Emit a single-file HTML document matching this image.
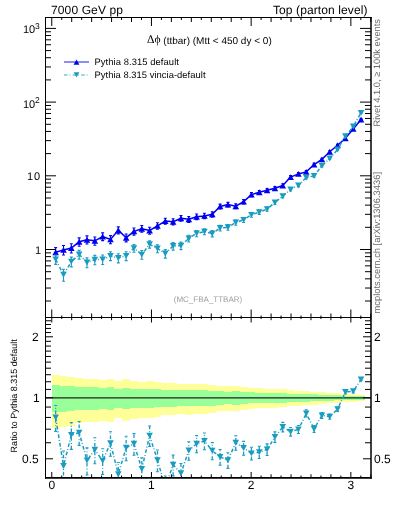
<!DOCTYPE html><html><head><meta charset="utf-8"><style>html,body{margin:0;padding:0;background:#fff;width:393px;height:512px;overflow:hidden}body{position:relative;font-family:"Liberation Sans",sans-serif}</style></head><body><svg width="393" height="512" viewBox="0 0 393 512" text-rendering="geometricPrecision" style="position:absolute;left:0;top:0;will-change:transform">
<defs><clipPath id="cm"><rect x="45" y="17" width="326" height="300"/></clipPath><clipPath id="cr"><rect x="45" y="317" width="326" height="161"/></clipPath></defs>
<g clip-path="url(#cr)" shape-rendering="crispEdges">
<rect x="51.75" y="375.30" width="7.83" height="52.80" fill="#ffff99"/>
<rect x="59.58" y="376.01" width="7.83" height="50.83" fill="#ffff99"/>
<rect x="67.41" y="376.54" width="7.83" height="49.34" fill="#ffff99"/>
<rect x="75.24" y="378.33" width="7.83" height="44.51" fill="#ffff99"/>
<rect x="83.07" y="378.90" width="7.83" height="43.01" fill="#ffff99"/>
<rect x="90.90" y="378.60" width="7.83" height="43.79" fill="#ffff99"/>
<rect x="98.73" y="379.73" width="7.83" height="40.83" fill="#ffff99"/>
<rect x="106.56" y="378.98" width="7.83" height="42.80" fill="#ffff99"/>
<rect x="114.39" y="381.28" width="7.83" height="36.89" fill="#ffff99"/>
<rect x="122.22" y="379.42" width="7.83" height="41.64" fill="#ffff99"/>
<rect x="130.05" y="380.99" width="7.83" height="37.61" fill="#ffff99"/>
<rect x="137.88" y="381.62" width="7.83" height="36.01" fill="#ffff99"/>
<rect x="145.72" y="381.20" width="7.83" height="37.07" fill="#ffff99"/>
<rect x="153.55" y="382.28" width="7.83" height="34.37" fill="#ffff99"/>
<rect x="161.38" y="383.29" width="7.83" height="31.88" fill="#ffff99"/>
<rect x="169.21" y="383.17" width="7.83" height="32.19" fill="#ffff99"/>
<rect x="177.04" y="383.89" width="7.83" height="30.44" fill="#ffff99"/>
<rect x="184.87" y="383.67" width="7.83" height="30.98" fill="#ffff99"/>
<rect x="192.70" y="384.19" width="7.83" height="29.72" fill="#ffff99"/>
<rect x="200.53" y="384.34" width="7.83" height="29.35" fill="#ffff99"/>
<rect x="208.36" y="384.65" width="7.83" height="28.61" fill="#ffff99"/>
<rect x="216.19" y="386.08" width="7.83" height="25.24" fill="#ffff99"/>
<rect x="224.02" y="386.39" width="7.83" height="24.53" fill="#ffff99"/>
<rect x="231.85" y="386.12" width="7.83" height="25.16" fill="#ffff99"/>
<rect x="239.68" y="386.88" width="7.83" height="23.39" fill="#ffff99"/>
<rect x="247.51" y="387.95" width="7.83" height="20.95" fill="#ffff99"/>
<rect x="255.34" y="388.28" width="7.83" height="20.20" fill="#ffff99"/>
<rect x="263.17" y="388.56" width="7.83" height="19.57" fill="#ffff99"/>
<rect x="271.00" y="388.84" width="7.83" height="18.94" fill="#ffff99"/>
<rect x="278.83" y="389.19" width="7.83" height="18.15" fill="#ffff99"/>
<rect x="286.66" y="390.21" width="7.83" height="15.90" fill="#ffff99"/>
<rect x="294.49" y="390.56" width="7.83" height="15.13" fill="#ffff99"/>
<rect x="302.32" y="390.78" width="7.83" height="14.66" fill="#ffff99"/>
<rect x="310.15" y="391.52" width="7.83" height="13.05" fill="#ffff99"/>
<rect x="317.98" y="391.98" width="7.83" height="12.05" fill="#ffff99"/>
<rect x="325.81" y="392.62" width="7.83" height="10.68" fill="#ffff99"/>
<rect x="333.65" y="393.10" width="7.83" height="9.66" fill="#ffff99"/>
<rect x="341.48" y="393.58" width="7.83" height="8.66" fill="#ffff99"/>
<rect x="349.31" y="394.14" width="7.83" height="7.47" fill="#ffff99"/>
<rect x="357.14" y="394.63" width="7.83" height="6.45" fill="#ffff99"/>
<rect x="51.75" y="385.25" width="7.83" height="27.20" fill="#99ff99"/>
<rect x="59.58" y="385.66" width="7.83" height="26.22" fill="#99ff99"/>
<rect x="67.41" y="385.98" width="7.83" height="25.49" fill="#99ff99"/>
<rect x="75.24" y="387.02" width="7.83" height="23.07" fill="#99ff99"/>
<rect x="83.07" y="387.35" width="7.83" height="22.32" fill="#99ff99"/>
<rect x="90.90" y="387.18" width="7.83" height="22.71" fill="#99ff99"/>
<rect x="98.73" y="387.83" width="7.83" height="21.22" fill="#99ff99"/>
<rect x="106.56" y="387.39" width="7.83" height="22.21" fill="#99ff99"/>
<rect x="114.39" y="388.72" width="7.83" height="19.21" fill="#99ff99"/>
<rect x="122.22" y="387.65" width="7.83" height="21.62" fill="#99ff99"/>
<rect x="130.05" y="388.55" width="7.83" height="19.58" fill="#99ff99"/>
<rect x="137.88" y="388.92" width="7.83" height="18.76" fill="#99ff99"/>
<rect x="145.72" y="388.68" width="7.83" height="19.30" fill="#99ff99"/>
<rect x="153.55" y="389.29" width="7.83" height="17.93" fill="#99ff99"/>
<rect x="161.38" y="389.87" width="7.83" height="16.65" fill="#99ff99"/>
<rect x="169.21" y="389.80" width="7.83" height="16.81" fill="#99ff99"/>
<rect x="177.04" y="390.21" width="7.83" height="15.91" fill="#99ff99"/>
<rect x="184.87" y="390.08" width="7.83" height="16.18" fill="#99ff99"/>
<rect x="192.70" y="390.37" width="7.83" height="15.54" fill="#99ff99"/>
<rect x="200.53" y="390.46" width="7.83" height="15.34" fill="#99ff99"/>
<rect x="208.36" y="390.64" width="7.83" height="14.96" fill="#99ff99"/>
<rect x="216.19" y="391.44" width="7.83" height="13.22" fill="#99ff99"/>
<rect x="224.02" y="391.61" width="7.83" height="12.85" fill="#99ff99"/>
<rect x="231.85" y="391.46" width="7.83" height="13.18" fill="#99ff99"/>
<rect x="239.68" y="391.88" width="7.83" height="12.26" fill="#99ff99"/>
<rect x="247.51" y="392.48" width="7.83" height="10.99" fill="#99ff99"/>
<rect x="255.34" y="392.66" width="7.83" height="10.60" fill="#99ff99"/>
<rect x="263.17" y="392.81" width="7.83" height="10.27" fill="#99ff99"/>
<rect x="271.00" y="392.97" width="7.83" height="9.94" fill="#99ff99"/>
<rect x="278.83" y="393.16" width="7.83" height="9.53" fill="#99ff99"/>
<rect x="286.66" y="393.72" width="7.83" height="8.35" fill="#99ff99"/>
<rect x="294.49" y="393.92" width="7.83" height="7.95" fill="#99ff99"/>
<rect x="302.32" y="394.03" width="7.83" height="7.70" fill="#99ff99"/>
<rect x="310.15" y="394.44" width="7.83" height="6.86" fill="#99ff99"/>
<rect x="317.98" y="394.69" width="7.83" height="6.33" fill="#99ff99"/>
<rect x="325.81" y="395.04" width="7.83" height="5.62" fill="#99ff99"/>
<rect x="333.65" y="395.30" width="7.83" height="5.08" fill="#99ff99"/>
<rect x="341.48" y="395.55" width="7.83" height="4.55" fill="#99ff99"/>
<rect x="349.31" y="395.86" width="7.83" height="3.93" fill="#99ff99"/>
<rect x="357.14" y="396.12" width="7.83" height="3.40" fill="#99ff99"/>
</g>
<line x1="45" y1="397.80" x2="371" y2="397.80" stroke="#222" stroke-width="1.2"/>
<g clip-path="url(#cm)">
<polyline points="55.67,252.20 63.50,249.90 71.33,248.10 79.16,241.80 86.99,239.70 94.82,240.80 102.65,236.50 110.48,239.40 118.31,230.20 126.14,237.70 133.97,231.40 141.80,228.70 149.63,230.50 157.46,225.80 165.29,221.10 173.12,221.70 180.95,218.20 188.78,219.30 196.61,216.70 204.44,215.90 212.27,214.30 220.10,206.40 227.93,204.60 235.76,206.20 243.60,201.60 251.43,194.60 259.26,192.30 267.09,190.30 274.92,188.20 282.75,185.50 290.58,177.10 298.41,173.90 306.24,171.90 314.07,164.50 321.90,159.40 329.73,151.70 337.56,145.30 345.39,138.30 353.22,128.90 361.05,119.50" fill="none" stroke="#0000f0" stroke-width="1.5"/>
<path d="M55.67,247.63V257.53M54.17,247.63H57.17M54.17,257.53H57.17" stroke="#0000f0" stroke-width="1.1" fill="none"/>
<path d="M55.67,249.25L58.97,255.15L52.37,255.15Z" fill="#0000f0"/>
<path d="M63.50,245.48V255.02M62.00,245.48H65.00M62.00,255.02H65.00" stroke="#0000f0" stroke-width="1.1" fill="none"/>
<path d="M63.50,246.95L66.80,252.85L60.20,252.85Z" fill="#0000f0"/>
<path d="M71.33,243.80V253.07M69.83,243.80H72.83M69.83,253.07H72.83" stroke="#0000f0" stroke-width="1.1" fill="none"/>
<path d="M71.33,245.15L74.63,251.05L68.03,251.05Z" fill="#0000f0"/>
<path d="M79.16,237.88V246.27M77.66,237.88H80.66M77.66,246.27H80.66" stroke="#0000f0" stroke-width="1.1" fill="none"/>
<path d="M79.16,238.85L82.46,244.75L75.86,244.75Z" fill="#0000f0"/>
<path d="M86.99,235.90V244.02M85.49,235.90H88.49M85.49,244.02H88.49" stroke="#0000f0" stroke-width="1.1" fill="none"/>
<path d="M86.99,236.75L90.29,242.65L83.69,242.65Z" fill="#0000f0"/>
<path d="M94.82,236.94V245.20M93.32,236.94H96.32M93.32,245.20H96.32" stroke="#0000f0" stroke-width="1.1" fill="none"/>
<path d="M94.82,237.85L98.12,243.75L91.52,243.75Z" fill="#0000f0"/>
<path d="M102.65,232.87V240.59M101.15,232.87H104.15M101.15,240.59H104.15" stroke="#0000f0" stroke-width="1.1" fill="none"/>
<path d="M102.65,233.55L105.95,239.45L99.35,239.45Z" fill="#0000f0"/>
<path d="M110.48,235.61V243.69M108.98,235.61H111.98M108.98,243.69H111.98" stroke="#0000f0" stroke-width="1.1" fill="none"/>
<path d="M110.48,236.45L113.78,242.35L107.18,242.35Z" fill="#0000f0"/>
<path d="M118.31,226.90V233.88M116.81,226.90H119.81M116.81,233.88H119.81" stroke="#0000f0" stroke-width="1.1" fill="none"/>
<path d="M118.31,227.25L121.61,233.15L115.01,233.15Z" fill="#0000f0"/>
<path d="M126.14,234.01V241.87M124.64,234.01H127.64M124.64,241.87H127.64" stroke="#0000f0" stroke-width="1.1" fill="none"/>
<path d="M126.14,234.75L129.44,240.65L122.84,240.65Z" fill="#0000f0"/>
<path d="M133.97,228.04V235.16M132.47,228.04H135.47M132.47,235.16H135.47" stroke="#0000f0" stroke-width="1.1" fill="none"/>
<path d="M133.97,228.45L137.27,234.35L130.67,234.35Z" fill="#0000f0"/>
<path d="M141.80,225.47V232.29M140.30,225.47H143.30M140.30,232.29H143.30" stroke="#0000f0" stroke-width="1.1" fill="none"/>
<path d="M141.80,225.75L145.10,231.65L138.50,231.65Z" fill="#0000f0"/>
<path d="M149.63,227.18V234.20M148.13,227.18H151.13M148.13,234.20H151.13" stroke="#0000f0" stroke-width="1.1" fill="none"/>
<path d="M149.63,227.55L152.93,233.45L146.33,233.45Z" fill="#0000f0"/>
<path d="M157.46,222.71V229.23M155.96,222.71H158.96M155.96,229.23H158.96" stroke="#0000f0" stroke-width="1.1" fill="none"/>
<path d="M157.46,222.85L160.76,228.75L154.16,228.75Z" fill="#0000f0"/>
<path d="M165.29,218.21V224.27M163.79,218.21H166.79M163.79,224.27H166.79" stroke="#0000f0" stroke-width="1.1" fill="none"/>
<path d="M165.29,218.15L168.59,224.05L161.99,224.05Z" fill="#0000f0"/>
<path d="M173.12,218.79V224.90M171.62,218.79H174.62M171.62,224.90H174.62" stroke="#0000f0" stroke-width="1.1" fill="none"/>
<path d="M173.12,218.75L176.42,224.65L169.82,224.65Z" fill="#0000f0"/>
<path d="M180.95,215.44V221.22M179.45,215.44H182.45M179.45,221.22H182.45" stroke="#0000f0" stroke-width="1.1" fill="none"/>
<path d="M180.95,215.25L184.25,221.15L177.65,221.15Z" fill="#0000f0"/>
<path d="M188.78,216.49V222.38M187.28,216.49H190.28M187.28,222.38H190.28" stroke="#0000f0" stroke-width="1.1" fill="none"/>
<path d="M188.78,216.35L192.08,222.25L185.48,222.25Z" fill="#0000f0"/>
<path d="M196.61,214.00V219.65M195.11,214.00H198.11M195.11,219.65H198.11" stroke="#0000f0" stroke-width="1.1" fill="none"/>
<path d="M196.61,213.75L199.91,219.65L193.31,219.65Z" fill="#0000f0"/>
<path d="M204.44,213.23V218.81M202.94,213.23H205.94M202.94,218.81H205.94" stroke="#0000f0" stroke-width="1.1" fill="none"/>
<path d="M204.44,212.95L207.74,218.85L201.14,218.85Z" fill="#0000f0"/>
<path d="M212.27,211.69V217.14M210.77,211.69H213.77M210.77,217.14H213.77" stroke="#0000f0" stroke-width="1.1" fill="none"/>
<path d="M212.27,211.35L215.57,217.25L208.97,217.25Z" fill="#0000f0"/>
<path d="M220.10,204.09V208.89M218.60,204.09H221.60M218.60,208.89H221.60" stroke="#0000f0" stroke-width="1.1" fill="none"/>
<path d="M220.10,203.45L223.40,209.35L216.80,209.35Z" fill="#0000f0"/>
<path d="M227.93,202.35V207.02M226.43,202.35H229.43M226.43,207.02H229.43" stroke="#0000f0" stroke-width="1.1" fill="none"/>
<path d="M227.93,201.65L231.23,207.55L224.63,207.55Z" fill="#0000f0"/>
<path d="M235.76,203.89V208.69M234.26,203.89H237.26M234.26,208.69H237.26" stroke="#0000f0" stroke-width="1.1" fill="none"/>
<path d="M235.76,203.25L239.06,209.15L232.46,209.15Z" fill="#0000f0"/>
<path d="M243.60,199.45V203.91M242.10,199.45H245.10M242.10,203.91H245.10" stroke="#0000f0" stroke-width="1.1" fill="none"/>
<path d="M243.60,198.65L246.90,204.55L240.30,204.55Z" fill="#0000f0"/>
<path d="M251.43,192.66V196.66M249.93,192.66H252.93M249.93,196.66H252.93" stroke="#0000f0" stroke-width="1.1" fill="none"/>
<path d="M251.43,191.65L254.73,197.55L248.13,197.55Z" fill="#0000f0"/>
<path d="M259.26,190.43V194.29M257.76,190.43H260.76M257.76,194.29H260.76" stroke="#0000f0" stroke-width="1.1" fill="none"/>
<path d="M259.26,189.35L262.56,195.25L255.96,195.25Z" fill="#0000f0"/>
<path d="M267.09,188.49V192.22M265.59,188.49H268.59M265.59,192.22H268.59" stroke="#0000f0" stroke-width="1.1" fill="none"/>
<path d="M267.09,187.35L270.39,193.25L263.79,193.25Z" fill="#0000f0"/>
<path d="M274.92,186.44V190.06M273.42,186.44H276.42M273.42,190.06H276.42" stroke="#0000f0" stroke-width="1.1" fill="none"/>
<path d="M274.92,185.25L278.22,191.15L271.62,191.15Z" fill="#0000f0"/>
<path d="M282.75,183.81V187.28M281.25,183.81H284.25M281.25,187.28H284.25" stroke="#0000f0" stroke-width="1.1" fill="none"/>
<path d="M282.75,182.55L286.05,188.45L279.45,188.45Z" fill="#0000f0"/>
<path d="M290.58,175.62V178.66M289.08,175.62H292.08M289.08,178.66H292.08" stroke="#0000f0" stroke-width="1.1" fill="none"/>
<path d="M290.58,174.15L293.88,180.05L287.28,180.05Z" fill="#0000f0"/>
<path d="M298.41,172.49V175.38M296.91,172.49H299.91M296.91,175.38H299.91" stroke="#0000f0" stroke-width="1.1" fill="none"/>
<path d="M298.41,170.95L301.71,176.85L295.11,176.85Z" fill="#0000f0"/>
<path d="M306.24,170.53V173.33M304.74,170.53H307.74M304.74,173.33H307.74" stroke="#0000f0" stroke-width="1.1" fill="none"/>
<path d="M306.24,168.95L309.54,174.85L302.94,174.85Z" fill="#0000f0"/>
<path d="M314.07,163.28V165.77M312.57,163.28H315.57M312.57,165.77H315.57" stroke="#0000f0" stroke-width="1.1" fill="none"/>
<path d="M314.07,161.55L317.37,167.45L310.77,167.45Z" fill="#0000f0"/>
<path d="M321.90,158.27V160.57M320.40,158.27H323.40M320.40,160.57H323.40" stroke="#0000f0" stroke-width="1.1" fill="none"/>
<path d="M321.90,156.45L325.20,162.35L318.60,162.35Z" fill="#0000f0"/>
<path d="M329.73,150.69V152.74M328.23,150.69H331.23M328.23,152.74H331.23" stroke="#0000f0" stroke-width="1.1" fill="none"/>
<path d="M329.73,148.75L333.03,154.65L326.43,154.65Z" fill="#0000f0"/>
<path d="M337.56,144.39V146.24M336.06,144.39H339.06M336.06,146.24H339.06" stroke="#0000f0" stroke-width="1.1" fill="none"/>
<path d="M337.56,142.35L340.86,148.25L334.26,148.25Z" fill="#0000f0"/>
<path d="M345.39,137.48V139.14M343.89,137.48H346.89M343.89,139.14H346.89" stroke="#0000f0" stroke-width="1.1" fill="none"/>
<path d="M345.39,135.35L348.69,141.25L342.09,141.25Z" fill="#0000f0"/>
<path d="M353.22,128.19V129.62M351.72,128.19H354.72M351.72,129.62H354.72" stroke="#0000f0" stroke-width="1.1" fill="none"/>
<path d="M353.22,125.95L356.52,131.85L349.92,131.85Z" fill="#0000f0"/>
<path d="M361.05,118.89V120.12M359.55,118.89H362.55M359.55,120.12H362.55" stroke="#0000f0" stroke-width="1.1" fill="none"/>
<path d="M361.05,116.55L364.35,122.45L357.75,122.45Z" fill="#0000f0"/>
<polyline points="55.67,259.37 63.50,274.71 71.33,261.63 79.16,254.46 86.99,262.47 94.82,259.72 102.65,259.38 110.48,255.92 118.31,257.99 126.14,255.85 133.97,248.13 141.80,254.60 149.63,244.25 157.46,248.50 165.29,253.55 173.12,246.07 180.95,245.66 188.78,238.47 196.61,233.42 204.44,231.61 212.27,233.58 220.10,227.94 227.93,227.30 235.76,222.53 243.60,219.86 251.43,214.83 259.26,212.09 267.09,209.11 274.92,202.46 282.75,196.12 290.58,189.43 298.41,185.40 306.24,177.57 314.07,175.85 321.90,165.80 329.73,158.54 337.56,149.45 345.39,136.19 353.22,126.52 361.05,112.84" fill="none" stroke="#1a9cc0" stroke-width="1.5" stroke-dasharray="3.6 1.9 0.9 2.2"/>
<path d="M55.67,255.01V264.41M54.17,255.01H57.17M54.17,264.41H57.17" stroke="#1a9cc0" stroke-width="1.1" fill="none"/>
<path d="M55.67,262.32L58.97,256.42L52.37,256.42Z" fill="#1a9cc0"/>
<path d="M63.50,269.27V281.27M62.00,269.27H65.00M62.00,281.27H65.00" stroke="#1a9cc0" stroke-width="1.1" fill="none"/>
<path d="M63.50,277.66L66.80,271.76L60.20,271.76Z" fill="#1a9cc0"/>
<path d="M71.33,257.13V266.87M69.83,257.13H72.83M69.83,266.87H72.83" stroke="#1a9cc0" stroke-width="1.1" fill="none"/>
<path d="M71.33,264.58L74.63,258.68L68.03,258.68Z" fill="#1a9cc0"/>
<path d="M79.16,250.40V259.10M77.66,250.40H80.66M77.66,259.10H80.66" stroke="#1a9cc0" stroke-width="1.1" fill="none"/>
<path d="M79.16,257.41L82.46,251.51L75.86,251.51Z" fill="#1a9cc0"/>
<path d="M86.99,257.91V267.79M85.49,257.91H88.49M85.49,267.79H88.49" stroke="#1a9cc0" stroke-width="1.1" fill="none"/>
<path d="M86.99,265.42L90.29,259.52L83.69,259.52Z" fill="#1a9cc0"/>
<path d="M94.82,255.34V264.79M93.32,255.34H96.32M93.32,264.79H96.32" stroke="#1a9cc0" stroke-width="1.1" fill="none"/>
<path d="M94.82,262.67L98.12,256.77L91.52,256.77Z" fill="#1a9cc0"/>
<path d="M102.65,255.02V264.43M101.15,255.02H104.15M101.15,264.43H104.15" stroke="#1a9cc0" stroke-width="1.1" fill="none"/>
<path d="M102.65,262.33L105.95,256.43L99.35,256.43Z" fill="#1a9cc0"/>
<path d="M110.48,251.77V260.67M108.98,251.77H111.98M108.98,260.67H111.98" stroke="#1a9cc0" stroke-width="1.1" fill="none"/>
<path d="M110.48,258.87L113.78,252.97L107.18,252.97Z" fill="#1a9cc0"/>
<path d="M118.31,253.72V262.92M116.81,253.72H119.81M116.81,262.92H119.81" stroke="#1a9cc0" stroke-width="1.1" fill="none"/>
<path d="M118.31,260.94L121.61,255.04L115.01,255.04Z" fill="#1a9cc0"/>
<path d="M126.14,251.71V260.61M124.64,251.71H127.64M124.64,260.61H127.64" stroke="#1a9cc0" stroke-width="1.1" fill="none"/>
<path d="M126.14,258.80L129.44,252.90L122.84,252.90Z" fill="#1a9cc0"/>
<path d="M133.97,244.44V252.31M132.47,244.44H135.47M132.47,252.31H135.47" stroke="#1a9cc0" stroke-width="1.1" fill="none"/>
<path d="M133.97,251.08L137.27,245.18L130.67,245.18Z" fill="#1a9cc0"/>
<path d="M141.80,250.54V259.26M140.30,250.54H143.30M140.30,259.26H143.30" stroke="#1a9cc0" stroke-width="1.1" fill="none"/>
<path d="M141.80,257.55L145.10,251.65L138.50,251.65Z" fill="#1a9cc0"/>
<path d="M149.63,240.76V248.17M148.13,240.76H151.13M148.13,248.17H151.13" stroke="#1a9cc0" stroke-width="1.1" fill="none"/>
<path d="M149.63,247.20L152.93,241.30L146.33,241.30Z" fill="#1a9cc0"/>
<path d="M157.46,244.78V252.70M155.96,244.78H158.96M155.96,252.70H158.96" stroke="#1a9cc0" stroke-width="1.1" fill="none"/>
<path d="M157.46,251.45L160.76,245.55L154.16,245.55Z" fill="#1a9cc0"/>
<path d="M165.29,249.55V258.12M163.79,249.55H166.79M163.79,258.12H166.79" stroke="#1a9cc0" stroke-width="1.1" fill="none"/>
<path d="M165.29,256.50L168.59,250.60L161.99,250.60Z" fill="#1a9cc0"/>
<path d="M173.12,242.49V250.11M171.62,242.49H174.62M171.62,250.11H174.62" stroke="#1a9cc0" stroke-width="1.1" fill="none"/>
<path d="M173.12,249.02L176.42,243.12L169.82,243.12Z" fill="#1a9cc0"/>
<path d="M180.95,242.10V249.67M179.45,242.10H182.45M179.45,249.67H182.45" stroke="#1a9cc0" stroke-width="1.1" fill="none"/>
<path d="M180.95,248.61L184.25,242.71L177.65,242.71Z" fill="#1a9cc0"/>
<path d="M188.78,235.27V242.03M187.28,235.27H190.28M187.28,242.03H190.28" stroke="#1a9cc0" stroke-width="1.1" fill="none"/>
<path d="M188.78,241.42L192.08,235.52L185.48,235.52Z" fill="#1a9cc0"/>
<path d="M196.61,230.45V236.69M195.11,230.45H198.11M195.11,236.69H198.11" stroke="#1a9cc0" stroke-width="1.1" fill="none"/>
<path d="M196.61,236.37L199.91,230.47L193.31,230.47Z" fill="#1a9cc0"/>
<path d="M204.44,228.72V234.79M202.94,228.72H205.94M202.94,234.79H205.94" stroke="#1a9cc0" stroke-width="1.1" fill="none"/>
<path d="M204.44,234.56L207.74,228.66L201.14,228.66Z" fill="#1a9cc0"/>
<path d="M212.27,230.60V236.86M210.77,230.60H213.77M210.77,236.86H213.77" stroke="#1a9cc0" stroke-width="1.1" fill="none"/>
<path d="M212.27,236.53L215.57,230.63L208.97,230.63Z" fill="#1a9cc0"/>
<path d="M220.10,225.20V230.93M218.60,225.20H221.60M218.60,230.93H221.60" stroke="#1a9cc0" stroke-width="1.1" fill="none"/>
<path d="M220.10,230.89L223.40,224.99L216.80,224.99Z" fill="#1a9cc0"/>
<path d="M227.93,224.59V230.26M226.43,224.59H229.43M226.43,230.26H229.43" stroke="#1a9cc0" stroke-width="1.1" fill="none"/>
<path d="M227.93,230.25L231.23,224.35L224.63,224.35Z" fill="#1a9cc0"/>
<path d="M235.76,220.01V225.27M234.26,220.01H237.26M234.26,225.27H237.26" stroke="#1a9cc0" stroke-width="1.1" fill="none"/>
<path d="M235.76,225.48L239.06,219.58L232.46,219.58Z" fill="#1a9cc0"/>
<path d="M243.60,217.44V222.48M242.10,217.44H245.10M242.10,222.48H245.10" stroke="#1a9cc0" stroke-width="1.1" fill="none"/>
<path d="M243.60,222.81L246.90,216.91L240.30,216.91Z" fill="#1a9cc0"/>
<path d="M251.43,212.58V217.24M249.93,212.58H252.93M249.93,217.24H252.93" stroke="#1a9cc0" stroke-width="1.1" fill="none"/>
<path d="M251.43,217.78L254.73,211.88L248.13,211.88Z" fill="#1a9cc0"/>
<path d="M259.26,209.93V214.40M257.76,209.93H260.76M257.76,214.40H260.76" stroke="#1a9cc0" stroke-width="1.1" fill="none"/>
<path d="M259.26,215.04L262.56,209.14L255.96,209.14Z" fill="#1a9cc0"/>
<path d="M267.09,207.05V211.31M265.59,207.05H268.59M265.59,211.31H268.59" stroke="#1a9cc0" stroke-width="1.1" fill="none"/>
<path d="M267.09,212.06L270.39,206.16L263.79,206.16Z" fill="#1a9cc0"/>
<path d="M274.92,200.60V204.44M273.42,200.60H276.42M273.42,204.44H276.42" stroke="#1a9cc0" stroke-width="1.1" fill="none"/>
<path d="M274.92,205.41L278.22,199.51L271.62,199.51Z" fill="#1a9cc0"/>
<path d="M282.75,194.43V197.91M281.25,194.43H284.25M281.25,197.91H284.25" stroke="#1a9cc0" stroke-width="1.1" fill="none"/>
<path d="M282.75,199.07L286.05,193.17L279.45,193.17Z" fill="#1a9cc0"/>
<path d="M290.58,187.90V191.04M289.08,187.90H292.08M289.08,191.04H292.08" stroke="#1a9cc0" stroke-width="1.1" fill="none"/>
<path d="M290.58,192.38L293.88,186.48L287.28,186.48Z" fill="#1a9cc0"/>
<path d="M298.41,183.96V186.90M296.91,183.96H299.91M296.91,186.90H299.91" stroke="#1a9cc0" stroke-width="1.1" fill="none"/>
<path d="M298.41,188.35L301.71,182.45L295.11,182.45Z" fill="#1a9cc0"/>
<path d="M306.24,176.30V178.90M304.74,176.30H307.74M304.74,178.90H307.74" stroke="#1a9cc0" stroke-width="1.1" fill="none"/>
<path d="M306.24,180.52L309.54,174.62L302.94,174.62Z" fill="#1a9cc0"/>
<path d="M314.07,174.61V177.14M312.57,174.61H315.57M312.57,177.14H315.57" stroke="#1a9cc0" stroke-width="1.1" fill="none"/>
<path d="M314.07,178.80L317.37,172.90L310.77,172.90Z" fill="#1a9cc0"/>
<path d="M321.90,164.74V166.90M320.40,164.74H323.40M320.40,166.90H323.40" stroke="#1a9cc0" stroke-width="1.1" fill="none"/>
<path d="M321.90,168.75L325.20,162.85L318.60,162.85Z" fill="#1a9cc0"/>
<path d="M329.73,157.59V159.52M328.23,157.59H331.23M328.23,159.52H331.23" stroke="#1a9cc0" stroke-width="1.1" fill="none"/>
<path d="M329.73,161.49L333.03,155.59L326.43,155.59Z" fill="#1a9cc0"/>
<path d="M337.56,148.62V150.30M336.06,148.62H339.06M336.06,150.30H339.06" stroke="#1a9cc0" stroke-width="1.1" fill="none"/>
<path d="M337.56,152.40L340.86,146.50L334.26,146.50Z" fill="#1a9cc0"/>
<path d="M345.39,135.52V136.88M343.89,135.52H346.89M343.89,136.88H346.89" stroke="#1a9cc0" stroke-width="1.1" fill="none"/>
<path d="M345.39,139.14L348.69,133.24L342.09,133.24Z" fill="#1a9cc0"/>
<path d="M353.22,125.94V127.11M351.72,125.94H354.72M351.72,127.11H354.72" stroke="#1a9cc0" stroke-width="1.1" fill="none"/>
<path d="M353.22,129.47L356.52,123.57L349.92,123.57Z" fill="#1a9cc0"/>
<path d="M361.05,112.37V113.32M359.55,112.37H362.55M359.55,113.32H362.55" stroke="#1a9cc0" stroke-width="1.1" fill="none"/>
<path d="M361.05,115.79L364.35,109.89L357.75,109.89Z" fill="#1a9cc0"/>
</g>
<g clip-path="url(#cr)">
<polyline points="55.67,417.50 63.50,466.00 71.33,435.00 79.16,432.60 86.99,460.40 94.82,449.80 102.65,460.70 110.48,443.20 118.31,474.20 126.14,447.70 133.97,443.80 141.80,469.00 149.63,435.60 157.46,460.20 165.29,487.00 173.12,464.80 180.95,473.30 188.78,450.50 196.61,443.75 204.44,441.00 212.27,450.80 220.10,457.00 227.93,460.20 235.76,442.70 243.60,448.00 251.43,453.40 259.26,452.20 267.09,449.50 274.92,437.00 282.75,427.00 290.58,431.70 298.41,429.40 306.24,413.40 314.07,429.00 321.90,415.40 329.73,416.60 337.56,409.20 345.39,392.00 353.22,391.25 361.05,379.50" fill="none" stroke="#1a9cc0" stroke-width="1.5" stroke-dasharray="3.6 1.9 0.9 2.2"/>
<path d="M55.67,431.37V405.52" stroke="#1a9cc0" stroke-width="1.3" fill="none" stroke-dasharray="3.6 1.9 0.9 2.2"/>
<path d="M54.17,405.52H57.17M54.17,431.37H57.17" stroke="#1a9cc0" stroke-width="1.1" fill="none"/>
<path d="M55.67,420.45L58.97,414.55L52.37,414.55Z" fill="#1a9cc0"/>
<path d="M63.50,484.03V451.04" stroke="#1a9cc0" stroke-width="1.3" fill="none" stroke-dasharray="3.6 1.9 0.9 2.2"/>
<path d="M62.00,451.04H65.00M62.00,484.03H65.00" stroke="#1a9cc0" stroke-width="1.1" fill="none"/>
<path d="M63.50,468.95L66.80,463.05L60.20,463.05Z" fill="#1a9cc0"/>
<path d="M71.33,449.41V422.62" stroke="#1a9cc0" stroke-width="1.3" fill="none" stroke-dasharray="3.6 1.9 0.9 2.2"/>
<path d="M69.83,422.62H72.83M69.83,449.41H72.83" stroke="#1a9cc0" stroke-width="1.1" fill="none"/>
<path d="M71.33,437.95L74.63,432.05L68.03,432.05Z" fill="#1a9cc0"/>
<path d="M79.16,445.37V421.45" stroke="#1a9cc0" stroke-width="1.3" fill="none" stroke-dasharray="3.6 1.9 0.9 2.2"/>
<path d="M77.66,421.45H80.66M77.66,445.37H80.66" stroke="#1a9cc0" stroke-width="1.1" fill="none"/>
<path d="M79.16,435.55L82.46,429.65L75.86,429.65Z" fill="#1a9cc0"/>
<path d="M86.99,475.02V447.87" stroke="#1a9cc0" stroke-width="1.3" fill="none" stroke-dasharray="3.6 1.9 0.9 2.2"/>
<path d="M85.49,447.87H88.49M85.49,475.02H88.49" stroke="#1a9cc0" stroke-width="1.1" fill="none"/>
<path d="M86.99,463.35L90.29,457.45L83.69,457.45Z" fill="#1a9cc0"/>
<path d="M94.82,463.75V437.76" stroke="#1a9cc0" stroke-width="1.3" fill="none" stroke-dasharray="3.6 1.9 0.9 2.2"/>
<path d="M93.32,437.76H96.32M93.32,463.75H96.32" stroke="#1a9cc0" stroke-width="1.1" fill="none"/>
<path d="M94.82,452.75L98.12,446.85L91.52,446.85Z" fill="#1a9cc0"/>
<path d="M102.65,474.57V448.72" stroke="#1a9cc0" stroke-width="1.3" fill="none" stroke-dasharray="3.6 1.9 0.9 2.2"/>
<path d="M101.15,448.72H104.15M101.15,474.57H104.15" stroke="#1a9cc0" stroke-width="1.1" fill="none"/>
<path d="M102.65,463.65L105.95,457.75L99.35,457.75Z" fill="#1a9cc0"/>
<path d="M110.48,456.28V431.81" stroke="#1a9cc0" stroke-width="1.3" fill="none" stroke-dasharray="3.6 1.9 0.9 2.2"/>
<path d="M108.98,431.81H111.98M108.98,456.28H111.98" stroke="#1a9cc0" stroke-width="1.1" fill="none"/>
<path d="M110.48,446.15L113.78,440.25L107.18,440.25Z" fill="#1a9cc0"/>
<path d="M118.31,487.75V462.46" stroke="#1a9cc0" stroke-width="1.3" fill="none" stroke-dasharray="3.6 1.9 0.9 2.2"/>
<path d="M116.81,462.46H119.81M116.81,487.75H119.81" stroke="#1a9cc0" stroke-width="1.1" fill="none"/>
<path d="M118.31,477.15L121.61,471.25L115.01,471.25Z" fill="#1a9cc0"/>
<path d="M126.14,460.77V436.32" stroke="#1a9cc0" stroke-width="1.3" fill="none" stroke-dasharray="3.6 1.9 0.9 2.2"/>
<path d="M124.64,436.32H127.64M124.64,460.77H127.64" stroke="#1a9cc0" stroke-width="1.1" fill="none"/>
<path d="M126.14,450.65L129.44,444.75L122.84,444.75Z" fill="#1a9cc0"/>
<path d="M133.97,455.28V433.64" stroke="#1a9cc0" stroke-width="1.3" fill="none" stroke-dasharray="3.6 1.9 0.9 2.2"/>
<path d="M132.47,433.64H135.47M132.47,455.28H135.47" stroke="#1a9cc0" stroke-width="1.1" fill="none"/>
<path d="M133.97,446.75L137.27,440.85L130.67,440.85Z" fill="#1a9cc0"/>
<path d="M141.80,481.80V457.83" stroke="#1a9cc0" stroke-width="1.3" fill="none" stroke-dasharray="3.6 1.9 0.9 2.2"/>
<path d="M140.30,457.83H143.30M140.30,481.80H143.30" stroke="#1a9cc0" stroke-width="1.1" fill="none"/>
<path d="M141.80,471.95L145.10,466.05L138.50,466.05Z" fill="#1a9cc0"/>
<path d="M149.63,446.37V426.01" stroke="#1a9cc0" stroke-width="1.3" fill="none" stroke-dasharray="3.6 1.9 0.9 2.2"/>
<path d="M148.13,426.01H151.13M148.13,446.37H151.13" stroke="#1a9cc0" stroke-width="1.1" fill="none"/>
<path d="M149.63,438.55L152.93,432.65L146.33,432.65Z" fill="#1a9cc0"/>
<path d="M157.46,471.75V449.99" stroke="#1a9cc0" stroke-width="1.3" fill="none" stroke-dasharray="3.6 1.9 0.9 2.2"/>
<path d="M155.96,449.99H158.96M155.96,471.75H158.96" stroke="#1a9cc0" stroke-width="1.1" fill="none"/>
<path d="M157.46,463.15L160.76,457.25L154.16,457.25Z" fill="#1a9cc0"/>
<path d="M165.29,499.57V476.00" stroke="#1a9cc0" stroke-width="1.3" fill="none" stroke-dasharray="3.6 1.9 0.9 2.2"/>
<path d="M163.79,476.00H166.79M163.79,499.57H166.79" stroke="#1a9cc0" stroke-width="1.1" fill="none"/>
<path d="M165.29,489.95L168.59,484.05L161.99,484.05Z" fill="#1a9cc0"/>
<path d="M173.12,475.90V454.95" stroke="#1a9cc0" stroke-width="1.3" fill="none" stroke-dasharray="3.6 1.9 0.9 2.2"/>
<path d="M171.62,454.95H174.62M171.62,475.90H174.62" stroke="#1a9cc0" stroke-width="1.1" fill="none"/>
<path d="M173.12,467.75L176.42,461.85L169.82,461.85Z" fill="#1a9cc0"/>
<path d="M180.95,484.32V463.51" stroke="#1a9cc0" stroke-width="1.3" fill="none" stroke-dasharray="3.6 1.9 0.9 2.2"/>
<path d="M179.45,463.51H182.45M179.45,484.32H182.45" stroke="#1a9cc0" stroke-width="1.1" fill="none"/>
<path d="M180.95,476.25L184.25,470.35L177.65,470.35Z" fill="#1a9cc0"/>
<path d="M188.78,460.28V441.70" stroke="#1a9cc0" stroke-width="1.3" fill="none" stroke-dasharray="3.6 1.9 0.9 2.2"/>
<path d="M187.28,441.70H190.28M187.28,460.28H190.28" stroke="#1a9cc0" stroke-width="1.1" fill="none"/>
<path d="M188.78,453.45L192.08,447.55L185.48,447.55Z" fill="#1a9cc0"/>
<path d="M196.61,452.75V435.59" stroke="#1a9cc0" stroke-width="1.3" fill="none" stroke-dasharray="3.6 1.9 0.9 2.2"/>
<path d="M195.11,435.59H198.11M195.11,452.75H198.11" stroke="#1a9cc0" stroke-width="1.1" fill="none"/>
<path d="M196.61,446.70L199.91,440.80L193.31,440.80Z" fill="#1a9cc0"/>
<path d="M204.44,449.74V433.05" stroke="#1a9cc0" stroke-width="1.3" fill="none" stroke-dasharray="3.6 1.9 0.9 2.2"/>
<path d="M202.94,433.05H205.94M202.94,449.74H205.94" stroke="#1a9cc0" stroke-width="1.1" fill="none"/>
<path d="M204.44,443.95L207.74,438.05L201.14,438.05Z" fill="#1a9cc0"/>
<path d="M212.27,459.82V442.62" stroke="#1a9cc0" stroke-width="1.3" fill="none" stroke-dasharray="3.6 1.9 0.9 2.2"/>
<path d="M210.77,442.62H213.77M210.77,459.82H213.77" stroke="#1a9cc0" stroke-width="1.1" fill="none"/>
<path d="M212.27,453.75L215.57,447.85L208.97,447.85Z" fill="#1a9cc0"/>
<path d="M220.10,465.23V449.48" stroke="#1a9cc0" stroke-width="1.3" fill="none" stroke-dasharray="3.6 1.9 0.9 2.2"/>
<path d="M218.60,449.48H221.60M218.60,465.23H221.60" stroke="#1a9cc0" stroke-width="1.1" fill="none"/>
<path d="M220.10,459.95L223.40,454.05L216.80,454.05Z" fill="#1a9cc0"/>
<path d="M227.93,468.34V452.75" stroke="#1a9cc0" stroke-width="1.3" fill="none" stroke-dasharray="3.6 1.9 0.9 2.2"/>
<path d="M226.43,452.75H229.43M226.43,468.34H229.43" stroke="#1a9cc0" stroke-width="1.1" fill="none"/>
<path d="M227.93,463.15L231.23,457.25L224.63,457.25Z" fill="#1a9cc0"/>
<path d="M235.76,450.23V435.76" stroke="#1a9cc0" stroke-width="1.3" fill="none" stroke-dasharray="3.6 1.9 0.9 2.2"/>
<path d="M234.26,435.76H237.26M234.26,450.23H237.26" stroke="#1a9cc0" stroke-width="1.1" fill="none"/>
<path d="M235.76,445.65L239.06,439.75L232.46,439.75Z" fill="#1a9cc0"/>
<path d="M243.60,455.21V441.34" stroke="#1a9cc0" stroke-width="1.3" fill="none" stroke-dasharray="3.6 1.9 0.9 2.2"/>
<path d="M242.10,441.34H245.10M242.10,455.21H245.10" stroke="#1a9cc0" stroke-width="1.1" fill="none"/>
<path d="M243.60,450.95L246.90,445.05L240.30,445.05Z" fill="#1a9cc0"/>
<path d="M251.43,460.04V447.22" stroke="#1a9cc0" stroke-width="1.3" fill="none" stroke-dasharray="3.6 1.9 0.9 2.2"/>
<path d="M249.93,447.22H252.93M249.93,460.04H252.93" stroke="#1a9cc0" stroke-width="1.1" fill="none"/>
<path d="M251.43,456.35L254.73,450.45L248.13,450.45Z" fill="#1a9cc0"/>
<path d="M259.26,458.56V446.27" stroke="#1a9cc0" stroke-width="1.3" fill="none" stroke-dasharray="3.6 1.9 0.9 2.2"/>
<path d="M257.76,446.27H260.76M257.76,458.56H260.76" stroke="#1a9cc0" stroke-width="1.1" fill="none"/>
<path d="M259.26,455.15L262.56,449.25L255.96,449.25Z" fill="#1a9cc0"/>
<path d="M267.09,455.56V443.83" stroke="#1a9cc0" stroke-width="1.3" fill="none" stroke-dasharray="3.6 1.9 0.9 2.2"/>
<path d="M265.59,443.83H268.59M265.59,455.56H268.59" stroke="#1a9cc0" stroke-width="1.1" fill="none"/>
<path d="M267.09,452.45L270.39,446.55L263.79,446.55Z" fill="#1a9cc0"/>
<path d="M274.92,442.44V431.88" stroke="#1a9cc0" stroke-width="1.3" fill="none" stroke-dasharray="3.6 1.9 0.9 2.2"/>
<path d="M273.42,431.88H276.42M273.42,442.44H276.42" stroke="#1a9cc0" stroke-width="1.1" fill="none"/>
<path d="M274.92,439.95L278.22,434.05L271.62,434.05Z" fill="#1a9cc0"/>
<path d="M282.75,431.91V422.35" stroke="#1a9cc0" stroke-width="1.3" fill="none" stroke-dasharray="3.6 1.9 0.9 2.2"/>
<path d="M281.25,422.35H284.25M281.25,431.91H284.25" stroke="#1a9cc0" stroke-width="1.1" fill="none"/>
<path d="M282.75,429.95L286.05,424.05L279.45,424.05Z" fill="#1a9cc0"/>
<path d="M290.58,436.11V427.50" stroke="#1a9cc0" stroke-width="1.3" fill="none" stroke-dasharray="3.6 1.9 0.9 2.2"/>
<path d="M289.08,427.50H292.08M289.08,436.11H292.08" stroke="#1a9cc0" stroke-width="1.1" fill="none"/>
<path d="M290.58,434.65L293.88,428.75L287.28,428.75Z" fill="#1a9cc0"/>
<path d="M298.41,433.54V425.45" stroke="#1a9cc0" stroke-width="1.3" fill="none" stroke-dasharray="3.6 1.9 0.9 2.2"/>
<path d="M296.91,425.45H299.91M296.91,433.54H299.91" stroke="#1a9cc0" stroke-width="1.1" fill="none"/>
<path d="M298.41,432.35L301.71,426.45L295.11,426.45Z" fill="#1a9cc0"/>
<path d="M306.24,417.05V409.89" stroke="#1a9cc0" stroke-width="1.3" fill="none" stroke-dasharray="3.6 1.9 0.9 2.2"/>
<path d="M304.74,409.89H307.74M304.74,417.05H307.74" stroke="#1a9cc0" stroke-width="1.1" fill="none"/>
<path d="M306.24,416.35L309.54,410.45L302.94,410.45Z" fill="#1a9cc0"/>
<path d="M314.07,432.55V425.59" stroke="#1a9cc0" stroke-width="1.3" fill="none" stroke-dasharray="3.6 1.9 0.9 2.2"/>
<path d="M312.57,425.59H315.57M312.57,432.55H315.57" stroke="#1a9cc0" stroke-width="1.1" fill="none"/>
<path d="M314.07,431.95L317.37,426.05L310.77,426.05Z" fill="#1a9cc0"/>
<path d="M321.90,418.43V412.47" stroke="#1a9cc0" stroke-width="1.3" fill="none" stroke-dasharray="3.6 1.9 0.9 2.2"/>
<path d="M320.40,412.47H323.40M320.40,418.43H323.40" stroke="#1a9cc0" stroke-width="1.1" fill="none"/>
<path d="M321.90,418.35L325.20,412.45L318.60,412.45Z" fill="#1a9cc0"/>
<path d="M329.73,419.30V413.98" stroke="#1a9cc0" stroke-width="1.3" fill="none" stroke-dasharray="3.6 1.9 0.9 2.2"/>
<path d="M328.23,413.98H331.23M328.23,419.30H331.23" stroke="#1a9cc0" stroke-width="1.1" fill="none"/>
<path d="M329.73,419.55L333.03,413.65L326.43,413.65Z" fill="#1a9cc0"/>
<path d="M337.56,411.54V406.93" stroke="#1a9cc0" stroke-width="1.3" fill="none" stroke-dasharray="3.6 1.9 0.9 2.2"/>
<path d="M336.06,406.93H339.06M336.06,411.54H339.06" stroke="#1a9cc0" stroke-width="1.1" fill="none"/>
<path d="M337.56,412.15L340.86,406.25L334.26,406.25Z" fill="#1a9cc0"/>
<path d="M345.39,393.89V390.15" stroke="#1a9cc0" stroke-width="1.3" fill="none" stroke-dasharray="3.6 1.9 0.9 2.2"/>
<path d="M343.89,390.15H346.89M343.89,393.89H346.89" stroke="#1a9cc0" stroke-width="1.1" fill="none"/>
<path d="M345.39,394.95L348.69,389.05L342.09,389.05Z" fill="#1a9cc0"/>
<path d="M353.22,392.88V389.65" stroke="#1a9cc0" stroke-width="1.3" fill="none" stroke-dasharray="3.6 1.9 0.9 2.2"/>
<path d="M351.72,389.65H354.72M351.72,392.88H354.72" stroke="#1a9cc0" stroke-width="1.1" fill="none"/>
<path d="M353.22,394.20L356.52,388.30L349.92,388.30Z" fill="#1a9cc0"/>
<path d="M361.05,380.81V378.21" stroke="#1a9cc0" stroke-width="1.3" fill="none" stroke-dasharray="3.6 1.9 0.9 2.2"/>
<path d="M359.55,378.21H362.55M359.55,380.81H362.55" stroke="#1a9cc0" stroke-width="1.1" fill="none"/>
<path d="M361.05,382.45L364.35,376.55L357.75,376.55Z" fill="#1a9cc0"/>
</g>
<path d="M45,301.01h6M371,301.01h-6M45,288.04h6M371,288.04h-6M45,278.83h6M371,278.83h-6M45,271.69h6M371,271.69h-6M45,265.85h6M371,265.85h-6M45,260.92h6M371,260.92h-6M45,256.64h6M371,256.64h-6M45,252.87h6M371,252.87h-6M45,249.50h11M371,249.50h-11M45,227.31h6M371,227.31h-6M45,214.34h6M371,214.34h-6M45,205.13h6M371,205.13h-6M45,197.99h6M371,197.99h-6M45,192.15h6M371,192.15h-6M45,187.22h6M371,187.22h-6M45,182.94h6M371,182.94h-6M45,179.17h6M371,179.17h-6M45,175.80h11M371,175.80h-11M45,153.61h6M371,153.61h-6M45,140.64h6M371,140.64h-6M45,131.43h6M371,131.43h-6M45,124.29h6M371,124.29h-6M45,118.45h6M371,118.45h-6M45,113.52h6M371,113.52h-6M45,109.24h6M371,109.24h-6M45,105.47h6M371,105.47h-6M45,102.10h11M371,102.10h-11M45,79.91h6M371,79.91h-6M45,66.94h6M371,66.94h-6M45,57.73h6M371,57.73h-6M45,50.59h6M371,50.59h-6M45,44.75h6M371,44.75h-6M45,39.82h6M371,39.82h-6M45,35.54h6M371,35.54h-6M45,31.77h6M371,31.77h-6M45,28.40h11M371,28.40h-11M45,458.79h8M371,458.79h-8M45,442.75h6M371,442.75h-6M45,429.18h6M371,429.18h-6M45,417.43h6M371,417.43h-6M45,407.07h6M371,407.07h-6M45,397.80h8M371,397.80h-8M45,389.41h6M371,389.41h-6M45,381.76h6M371,381.76h-6M45,374.72h6M371,374.72h-6M45,368.19h6M371,368.19h-6M45,362.12h6M371,362.12h-6M45,356.45h6M371,356.45h-6M45,351.11h6M371,351.11h-6M45,346.08h6M371,346.08h-6M45,341.32h6M371,341.32h-6M45,336.81h8M371,336.81h-8M45,332.52h6M371,332.52h-6M45,328.43h6M371,328.43h-6M45,324.51h6M371,324.51h-6M45,320.77h6M371,320.77h-6M51.75,17v9M51.75,317.5v-8M51.75,317.5v5M51.75,478v-6M61.72,17v3M61.72,317.5v-2M61.72,317.5v1.5M61.72,478v-2.5M71.69,17v5M71.69,317.5v-4M71.69,317.5v2.7M71.69,478v-3.7M81.66,17v3M81.66,317.5v-2M81.66,317.5v1.5M81.66,478v-2.5M91.63,17v5M91.63,317.5v-4M91.63,317.5v2.7M91.63,478v-3.7M101.60,17v3M101.60,317.5v-2M101.60,317.5v1.5M101.60,478v-2.5M111.57,17v5M111.57,317.5v-4M111.57,317.5v2.7M111.57,478v-3.7M121.54,17v3M121.54,317.5v-2M121.54,317.5v1.5M121.54,478v-2.5M131.51,17v5M131.51,317.5v-4M131.51,317.5v2.7M131.51,478v-3.7M141.48,17v3M141.48,317.5v-2M141.48,317.5v1.5M141.48,478v-2.5M151.45,17v9M151.45,317.5v-8M151.45,317.5v5M151.45,478v-6M161.42,17v3M161.42,317.5v-2M161.42,317.5v1.5M161.42,478v-2.5M171.39,17v5M171.39,317.5v-4M171.39,317.5v2.7M171.39,478v-3.7M181.36,17v3M181.36,317.5v-2M181.36,317.5v1.5M181.36,478v-2.5M191.33,17v5M191.33,317.5v-4M191.33,317.5v2.7M191.33,478v-3.7M201.30,17v3M201.30,317.5v-2M201.30,317.5v1.5M201.30,478v-2.5M211.27,17v5M211.27,317.5v-4M211.27,317.5v2.7M211.27,478v-3.7M221.24,17v3M221.24,317.5v-2M221.24,317.5v1.5M221.24,478v-2.5M231.21,17v5M231.21,317.5v-4M231.21,317.5v2.7M231.21,478v-3.7M241.18,17v3M241.18,317.5v-2M241.18,317.5v1.5M241.18,478v-2.5M251.15,17v9M251.15,317.5v-8M251.15,317.5v5M251.15,478v-6M261.12,17v3M261.12,317.5v-2M261.12,317.5v1.5M261.12,478v-2.5M271.09,17v5M271.09,317.5v-4M271.09,317.5v2.7M271.09,478v-3.7M281.06,17v3M281.06,317.5v-2M281.06,317.5v1.5M281.06,478v-2.5M291.03,17v5M291.03,317.5v-4M291.03,317.5v2.7M291.03,478v-3.7M301.00,17v3M301.00,317.5v-2M301.00,317.5v1.5M301.00,478v-2.5M310.97,17v5M310.97,317.5v-4M310.97,317.5v2.7M310.97,478v-3.7M320.94,17v3M320.94,317.5v-2M320.94,317.5v1.5M320.94,478v-2.5M330.91,17v5M330.91,317.5v-4M330.91,317.5v2.7M330.91,478v-3.7M340.88,17v3M340.88,317.5v-2M340.88,317.5v1.5M340.88,478v-2.5M350.85,17v9M350.85,317.5v-8M350.85,317.5v5M350.85,478v-6M360.82,17v3M360.82,317.5v-2M360.82,317.5v1.5M360.82,478v-2.5M370.79,17v5M370.79,317.5v-4M370.79,317.5v2.7M370.79,478v-3.7" stroke="#000" stroke-width="1" fill="none"/>
<path d="M45.5,17V478.7M45,17.5H371.7" stroke="#000" stroke-width="1" fill="none"/><path d="M45,317.5H371" stroke="#000" stroke-width="1" fill="none"/><path d="M371,17V478.7" stroke="#000" stroke-width="1.5" fill="none"/><path d="M45,477.9H371.7" stroke="#000" stroke-width="1.6" fill="none"/>
<text x="51" y="13.7" font-size="12" text-anchor="start" fill="#000" font-family="&quot;Liberation Sans&quot;, sans-serif" letter-spacing="0.12">7000 GeV pp</text>
<text x="273" y="13.7" font-size="12" text-anchor="start" fill="#000" font-family="&quot;Liberation Sans&quot;, sans-serif" letter-spacing="0.1">Top (parton level)</text>
<text x="147" y="44" font-size="10" text-anchor="start" fill="#000" font-family="&quot;Liberation Sans&quot;, sans-serif" ><tspan font-family="&quot;Liberation Serif&quot;, serif" font-size="11.6" dy="-0.9">Δϕ</tspan><tspan dy="0.9"> (ttbar) (Mtt &lt; 450 dy &lt; 0)</tspan></text>
<line x1="64" y1="62" x2="89" y2="62" stroke="#0000f0" stroke-width="1" opacity="0.9"/>
<path d="M76.50,59.51L79.40,64.69L73.60,64.69Z" fill="#0000f0"/>
<line x1="64" y1="75" x2="89" y2="75" stroke="#1a9cc0" stroke-width="1.1" opacity="0.85" stroke-dasharray="3.6 1.9 0.9 2.2"/>
<path d="M76.50,77.49L79.40,72.31L73.60,72.31Z" fill="#1a9cc0"/>
<text x="94.5" y="64.9" font-size="9.4" text-anchor="start" fill="#000" font-family="&quot;Liberation Sans&quot;, sans-serif" letter-spacing="0.08">Pythia 8.315 default</text>
<text x="94.5" y="77.9" font-size="9.4" text-anchor="start" fill="#000" font-family="&quot;Liberation Sans&quot;, sans-serif" letter-spacing="0.04">Pythia 8.315 vincia-default</text>
<text x="23" y="33" font-size="11" text-anchor="start" fill="#000" font-family="&quot;Liberation Sans&quot;, sans-serif" >10</text>
<text x="35" y="29" font-size="8.5" text-anchor="start" fill="#000" font-family="&quot;Liberation Sans&quot;, sans-serif" >3</text>
<text x="23" y="108" font-size="11" text-anchor="start" fill="#000" font-family="&quot;Liberation Sans&quot;, sans-serif" >10</text>
<text x="35" y="103" font-size="8.5" text-anchor="start" fill="#000" font-family="&quot;Liberation Sans&quot;, sans-serif" >2</text>
<text x="27" y="180" font-size="11" text-anchor="start" fill="#000" font-family="&quot;Liberation Sans&quot;, sans-serif" letter-spacing="1">10</text>
<text x="35" y="254" font-size="11" text-anchor="start" fill="#000" font-family="&quot;Liberation Sans&quot;, sans-serif" >1</text>
<text x="32" y="341" font-size="12" text-anchor="start" fill="#000" font-family="&quot;Liberation Sans&quot;, sans-serif" >2</text>
<text x="33" y="402" font-size="12" text-anchor="start" fill="#000" font-family="&quot;Liberation Sans&quot;, sans-serif" >1</text>
<text x="22" y="463" font-size="12" text-anchor="start" fill="#000" font-family="&quot;Liberation Sans&quot;, sans-serif" >0.5</text>
<text x="374" y="341" font-size="12" text-anchor="start" fill="#000" font-family="&quot;Liberation Sans&quot;, sans-serif" >2</text>
<text x="374" y="402" font-size="12" text-anchor="start" fill="#000" font-family="&quot;Liberation Sans&quot;, sans-serif" >1</text>
<text x="374" y="463" font-size="12" text-anchor="start" fill="#000" font-family="&quot;Liberation Sans&quot;, sans-serif" >0.5</text>
<text x="51.75" y="489" font-size="12" text-anchor="middle" fill="#000" font-family="&quot;Liberation Sans&quot;, sans-serif" >0</text>
<text x="151.45" y="489" font-size="12" text-anchor="middle" fill="#000" font-family="&quot;Liberation Sans&quot;, sans-serif" >1</text>
<text x="251.15" y="489" font-size="12" text-anchor="middle" fill="#000" font-family="&quot;Liberation Sans&quot;, sans-serif" >2</text>
<text x="350.85" y="489" font-size="12" text-anchor="middle" fill="#000" font-family="&quot;Liberation Sans&quot;, sans-serif" >3</text>
<text x="0" y="0" font-size="9.3" text-anchor="end" fill="#6a6a6a" font-family="&quot;Liberation Sans&quot;, sans-serif" transform="translate(380.2,19) rotate(-90)">Rivet 4.1.0, ≥ 100k events</text>
<text x="0" y="0" font-size="9.37" text-anchor="end" fill="#6a6a6a" font-family="&quot;Liberation Sans&quot;, sans-serif" transform="translate(380.2,172) rotate(-90)">mcplots.cern.ch [arXiv:1306.3436]</text>
<text x="0" y="0" font-size="9.0" text-anchor="end" fill="#000" font-family="&quot;Liberation Sans&quot;, sans-serif" transform="translate(16.7,339.3) rotate(-90)">Ratio to Pythia 8.315 default</text>
<text x="208" y="301.7" font-size="8" text-anchor="middle" fill="#a0a0a0" font-family="&quot;Liberation Sans&quot;, sans-serif" >(MC_FBA_TTBAR)</text>
</svg></body></html>
